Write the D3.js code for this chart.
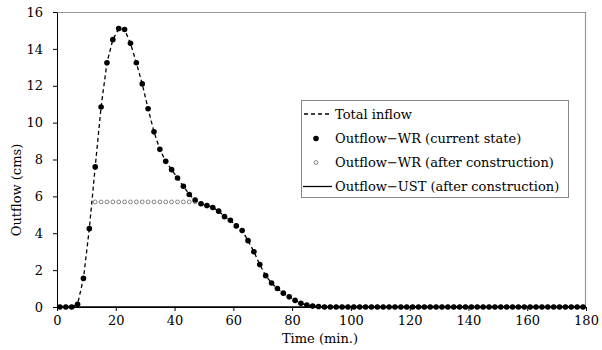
<!DOCTYPE html>
<html>
<head>
<meta charset="utf-8">
<script src="https://cdn.jsdelivr.net/npm/d3@7"></script>
<style>
  body { margin: 0; background: #fff; }
  svg text { font-family: "DejaVu Serif", serif; }
</style>
</head>
<body>
<div id="chart"></div>
<script>
// time axis (min.), one sample every 2 minutes
var times = d3.range(1, 181, 2)

// outflow of WR in the current state = total inflow (cms)
var inflow = [0, 0, 0, 0.15, 1.55, 4.25, 7.6, 10.85, 13.25, 14.5,
    15.1, 15.05, 14.3, 13.25, 12.1, 10.75, 9.5, 8.55, 7.9, 7.45,
    7.0, 6.55, 6.1, 5.8, 5.6, 5.5, 5.4, 5.2, 4.9, 4.7,
    4.4, 4.15, 3.6, 3.0, 2.3, 1.7, 1.3, 1.0, 0.75, 0.55,
    0.36, 0.2, 0.11, 0.05, 0.03, 0, 0, 0, 0, 0,
    0, 0, 0, 0, 0, 0, 0, 0, 0, 0,
    0, 0, 0, 0, 0, 0, 0, 0, 0, 0,
    0, 0, 0, 0, 0, 0, 0, 0, 0, 0,
    0, 0, 0, 0, 0, 0, 0, 0, 0, 0]
var wrCurrent = inflow

// outflow of WR after construction (capped by the weir)
var wrAfter = [0, 0, 0, 0.15, 1.55, 4.25, 5.7, 5.7, 5.7, 5.7,
    5.7, 5.7, 5.7, 5.7, 5.7, 5.7, 5.7, 5.7, 5.7, 5.7,
    5.7, 5.7, 5.7, 5.7, 5.6, 5.5, 5.4, 5.2, 4.9, 4.7,
    4.4, 4.15, 3.6, 3.0, 2.3, 1.7, 1.3, 1.0, 0.75, 0.55,
    0.36, 0.2, 0.11, 0.05, 0.03, 0, 0, 0, 0, 0,
    0, 0, 0, 0, 0, 0, 0, 0, 0, 0,
    0, 0, 0, 0, 0, 0, 0, 0, 0, 0,
    0, 0, 0, 0, 0, 0, 0, 0, 0, 0,
    0, 0, 0, 0, 0, 0, 0, 0, 0, 0]

// outflow of UST after construction
var ustAfter = times.map(function () { return 0; })

var xTicks = [0, 20, 40, 60, 80, 100, 120, 140, 160, 180]
var yTicks = [0, 2, 4, 6, 8, 10, 12, 14, 16]
var legendLabels = ["Total inflow", "Outflow\u2212WR (current state)",
    "Outflow\u2212WR (after construction)", "Outflow\u2212UST (after construction)"]

var width = 602
var height = 350
var margin = { top: 12, right: 16, bottom: 43, left: 57 }
var w = width - margin.left - margin.right
var h = height - margin.top - margin.bottom
var fs = "13px"

var svg = d3.select("#chart")
    .append("svg")
    .attr("width", width)
    .attr("height", height)

var g = svg.append("g")
    .attr("transform", "translate(" + margin.left + "," + margin.top + ")")

var x = d3.scaleLinear().domain([0, 180]).range([0, w])
var y = d3.scaleLinear().domain([0, 16]).range([h, 0])

// plot area frame (top and right in gray)
g.append("path")
    .attr("d", "M0,0.5H" + (w - 0.5) + "V" + h)
    .attr("fill", "none")
    .attr("stroke", "#999")
    .attr("stroke-width", 1.2)

// axes
var xAxis = g.append("g")
    .attr("transform", "translate(0," + h + ")")
    .call(d3.axisBottom(x).tickValues(xTicks).tickSize(4).tickSizeOuter(0).tickPadding(5))
var yAxis = g.append("g")
    .call(d3.axisLeft(y).tickValues(yTicks).tickSize(4).tickSizeOuter(0).tickPadding(10))

;[xAxis, yAxis].forEach(function (a) {
    a.attr("font-family", null).attr("font-size", null)
    a.selectAll("text").style("font-size", fs).attr("fill", "#000")
    a.selectAll("line").attr("stroke", "#000")
    a.select(".domain").attr("stroke", "#000")
})

// UST line (solid)
var line = d3.line()
    .x(function (d, i) { return x(times[i]) })
    .y(function (d) { return y(d) })

g.append("path")
    .datum(ustAfter)
    .attr("d", line)
    .attr("fill", "none")
    .attr("stroke", "#000")
    .attr("stroke-width", 1.3)

// total inflow (dashed)
g.append("path")
    .datum(inflow)
    .attr("d", line)
    .attr("fill", "none")
    .attr("stroke", "#000")
    .attr("stroke-width", 1.3)
    .attr("stroke-dasharray", "4,3")

// WR after construction (open circles)
g.selectAll(".open")
    .data(wrAfter)
    .enter()
    .append("circle")
    .attr("class", "open")
    .attr("cx", function (d, i) { return x(times[i]) })
    .attr("cy", function (d) { return y(d) })
    .attr("r", 1.9)
    .attr("fill", "#fff")
    .attr("stroke", "#666")
    .attr("stroke-width", 0.8)

// WR current state (filled dots)
g.selectAll(".dot")
    .data(wrCurrent)
    .enter()
    .append("circle")
    .attr("class", "dot")
    .attr("cx", function (d, i) { return x(times[i]) })
    .attr("cy", function (d) { return y(d) })
    .attr("r", 2.8)
    .attr("fill", "#000")

// axis titles
svg.append("text")
    .attr("x", 320)
    .attr("y", 343)
    .attr("text-anchor", "middle")
    .style("font-size", fs)
    .text("Time (min.)")

svg.append("text")
    .attr("transform", "translate(16,190) rotate(-90)")
    .attr("text-anchor", "middle")
    .attr("dy", "0.35em")
    .style("font-size", fs)
    .text("Outflow (cms)")

// legend
var lg = svg.append("g")
lg.append("rect")
    .attr("x", 301.5)
    .attr("y", 100.5)
    .attr("width", 267)
    .attr("height", 97)
    .attr("fill", "#fff")
    .attr("stroke", "#888")

var rows = [114, 138.5, 162.5, 186.5]
lg.selectAll(".lbl")
    .data(legendLabels)
    .enter()
    .append("text")
    .attr("x", 335)
    .attr("y", function (d, i) { return rows[i] })
    .attr("dy", "0.35em")
    .style("font-size", fs)
    .text(function (d) { return d })

lg.append("line")
    .attr("x1", 304).attr("x2", 331)
    .attr("y1", rows[0]).attr("y2", rows[0])
    .attr("stroke", "#000").attr("stroke-width", 1.3)
    .attr("stroke-dasharray", "4,3")
lg.append("circle")
    .attr("cx", 316).attr("cy", rows[1]).attr("r", 2.8).attr("fill", "#000")
lg.append("circle")
    .attr("cx", 316).attr("cy", rows[2]).attr("r", 1.9)
    .attr("fill", "#fff").attr("stroke", "#666").attr("stroke-width", 0.8)
lg.append("line")
    .attr("x1", 303).attr("x2", 332)
    .attr("y1", rows[3]).attr("y2", rows[3])
    .attr("stroke", "#000").attr("stroke-width", 1.3)
</script>
</body>
</html>
